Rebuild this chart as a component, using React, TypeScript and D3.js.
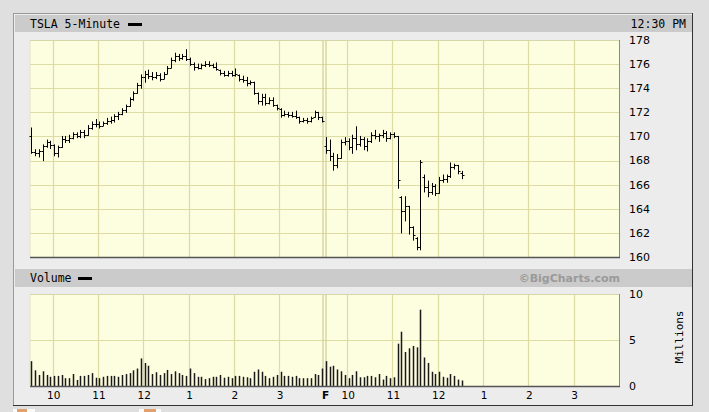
import React from "react";
import * as d3 from "d3";

// ---- DATA ----
const title = "TSLA 5-Minute";
const timeLabel = "12:30 PM";
const volumeTitle = "Volume";
const credit = "©BigCharts.com";
const volUnit = "Millions";

// Day 1 (Thursday) 5-minute bars, 9:30 .. 15:55
const day1Open = [170.0,168.7,168.6,168.8,169.2,169.5,169.3,168.6,169.1,169.8,169.7,169.9,170.2,170.0,170.4,170.1,170.7,171.0,171.0,170.9,171.1,171.3,171.4,171.7,171.9,172.2,172.5,173.1,173.6,174.3,174.9,175.2,175.0,174.9,175.1,174.8,175.2,175.7,176.3,176.7,176.5,176.7,176.4,176.0,175.8,175.7,175.9,176.0,175.9,175.8,175.5,175.3,175.1,175.3,175.1,175.1,174.8,174.7,174.4,174.5,173.6,172.9,173.3,172.8,173.0,172.6,172.3,171.8,171.9,171.8,171.7,171.6,171.3,171.4,171.3,171.6,172.0,171.6];
const day1High = [170.7,168.9,168.9,169.3,169.7,169.6,169.3,169.2,170.0,170.0,170.1,170.3,170.3,170.5,170.5,170.9,171.2,171.4,171.2,171.2,171.5,171.6,171.8,172.0,172.3,172.6,173.2,173.7,174.4,175.1,175.4,175.5,175.3,175.3,175.2,175.3,175.8,176.5,176.9,176.8,176.8,177.2,176.5,176.1,176.0,176.0,176.2,176.2,176.0,176.1,175.5,175.4,175.4,175.4,175.6,175.1,175.0,174.9,174.6,174.5,173.6,173.5,173.5,173.2,173.2,172.6,172.3,172.1,172.0,172.0,172.1,171.6,171.5,171.5,171.6,172.1,172.0,171.6];
const day1Low = [168.6,168.4,168.3,168.0,169.1,169.0,168.4,168.3,169.1,169.5,169.5,169.8,169.9,169.9,169.9,170.1,170.6,170.8,170.7,170.9,171.0,171.1,171.2,171.4,171.8,172.0,172.5,173.0,173.6,174.0,174.5,174.8,174.7,174.8,174.6,174.8,175.2,175.7,176.2,176.3,176.4,176.3,175.9,175.5,175.6,175.6,175.8,175.8,175.7,175.5,175.1,175.0,175.0,175.0,175.0,174.6,174.5,174.2,174.3,173.5,172.7,172.6,172.6,172.7,172.5,172.2,171.6,171.7,171.6,171.6,171.5,171.1,171.2,171.1,171.2,171.6,171.4,171.2];
const day1Close = [168.7,168.6,168.8,169.2,169.5,169.3,168.6,169.1,169.8,169.7,169.9,170.2,170.0,170.4,170.1,170.7,171.0,171.0,170.9,171.1,171.3,171.4,171.7,171.9,172.2,172.5,173.1,173.6,174.3,174.9,175.2,175.0,174.9,175.1,174.8,175.2,175.7,176.3,176.7,176.5,176.7,176.4,176.0,175.8,175.7,175.9,176.0,175.9,175.8,175.6,175.3,175.1,175.3,175.1,175.2,174.8,174.7,174.4,174.5,173.6,172.9,173.3,172.8,173.0,172.6,172.4,171.8,171.9,171.8,171.7,171.6,171.3,171.4,171.3,171.5,172.0,171.6,171.3];
const day1Volume = [2.7,1.7,1.2,1.6,1.2,1.0,1.1,1.1,1.2,0.85,0.85,1.3,0.65,1.1,1.1,1.2,1.4,0.9,0.85,1.0,1.1,1.1,1.1,1.0,1.2,1.3,1.4,1.7,1.9,3.0,2.5,2.2,1.3,1.5,1.2,1.4,1.75,1.3,1.6,1.4,1.2,1.1,1.9,1.4,1.0,1.0,0.75,0.85,1.0,1.0,1.2,0.9,1.0,0.85,1.1,1.1,1.0,0.95,0.85,1.55,1.8,1.55,1.1,0.85,1.0,1.2,1.55,1.1,1.1,1.0,1.1,0.85,0.85,0.85,0.85,1.3,1.2,1.9];

// Day 2 (Friday) 5-minute bars, 9:30 .. 12:30
const day2Open = [169.2,168.9,168.4,167.6,168.2,169.5,169.6,169.1,169.9,169.4,169.8,169.2,169.6,170.1,170.0,170.1,170.3,169.9,170.2,170.0,165.0,163.8,164.2,162.5,161.6,160.8,166.6,165.8,165.4,165.9,165.3,166.4,166.5,166.7,167.5,167.6,167.0];
const day2High = [169.9,169.7,168.6,168.5,169.7,169.9,169.8,170.1,170.8,170.0,169.9,169.8,170.3,170.5,170.2,170.5,170.4,170.3,170.3,170.0,165.0,165.0,164.2,162.5,161.6,168.0,166.8,166.3,166.1,166.0,166.6,166.8,166.8,167.8,167.7,167.6,167.1];
const day2Low = [168.6,168.0,167.2,167.4,168.2,169.3,168.9,168.6,168.9,169.2,168.9,168.8,169.5,169.8,169.6,169.9,169.6,169.8,169.9,165.7,162.0,163.0,161.9,161.4,160.6,160.6,165.4,165.0,165.2,165.1,165.3,166.2,166.2,166.6,167.3,166.9,166.5];
const day2Close = [168.9,168.4,167.6,168.2,169.5,169.6,169.1,169.9,169.4,169.8,169.2,169.6,170.1,170.0,170.1,170.3,169.9,170.2,170.0,166.4,163.8,164.2,162.5,161.8,160.8,167.9,165.8,165.4,165.9,165.3,166.4,166.5,166.7,167.5,167.6,167.1,166.8];
const day2Volume = [2.7,2.1,2.2,1.8,1.6,1.2,0.85,1.2,1.6,0.95,0.95,1.1,1.1,0.95,1.3,0.7,1.1,0.85,0.95,4.6,5.9,3.7,4.1,4.35,4.2,8.3,3.1,2.5,1.55,1.3,1.55,1.0,0.9,1.3,1.1,0.7,0.6];

const barsPerDay = 78;
const totalSlots = 156;
const hourTickSlots = [6, 18, 30, 42, 54, 66, 84, 96, 108, 120, 132, 144];
const hourTickLabels = ["10", "11", "12", "1", "2", "3", "10", "11", "12", "1", "2", "3"];
const dayBreakLabel = "F";
const priceTicks = [160, 162, 164, 166, 168, 170, 172, 174, 176, 178];
const volumeTicks = [0, 5, 10];

export default function App() {
  const W = 709, H = 412;
  const opens = [...day1Open, ...day2Open];
  const highs = [...day1High, ...day2High];
  const lows = [...day1Low, ...day2Low];
  const closes = [...day1Close, ...day2Close];
  const vols = [...day1Volume, ...day2Volume];

  const px0 = 30, px1 = 619;
  const x = d3.scaleLinear().domain([0, totalSlots]).range([px0, px1]);
  const yP = d3.scaleLinear().domain([160, 178]).range([257, 40]);
  const yV = d3.scaleLinear().domain([0, 10]).range([386, 294]);

  const bx = (k: number) => Math.round(x(k) + 1.4) + 0.5;
  const gx = (k: number) => Math.round(x(k)) + 0.5;
  const gridC = "#dcdca4";
  const plotFill = "#fdfde0";
  const mono = "'DejaVu Sans Mono', monospace";
  const sans = "'DejaVu Sans', sans-serif";
  const breakX = x(barsPerDay);

  const plotPanel = (top: number, bottom: number, hLines: number[]) => (
    <g>
      <rect x={px0} y={top} width={px1 - px0} height={bottom - top} fill={plotFill} stroke="none" />
      {hLines.map((yy, i) => (
        <line key={"h" + i} x1={px0} x2={px1} y1={Math.round(yy) + 0.5} y2={Math.round(yy) + 0.5} stroke={gridC} strokeWidth={1} />
      ))}
      {hourTickSlots.map((s, i) => (
        <line key={"v" + i} x1={gx(s)} x2={gx(s)} y1={top} y2={bottom} stroke={gridC} strokeWidth={1.2} />
      ))}
      <line x1={breakX - 1.5} x2={breakX - 1.5} y1={top} y2={bottom} stroke="#cfcf98" strokeWidth={1.2} />
      <line x1={breakX + 1.5} x2={breakX + 1.5} y1={top} y2={bottom} stroke="#cfcf98" strokeWidth={1.2} />
      <line x1={px0} x2={px1} y1={top + 0.5} y2={top + 0.5} stroke="#d6d6a8" strokeWidth={1} />
      <line x1={px0} x2={px0} y1={top} y2={bottom} stroke="#e4e4c0" strokeWidth={1} />
    </g>
  );

  const plotFrame = (top: number, bottom: number) => (
    <g>
      <line x1={px1 + 0.5} x2={px1 + 0.5} y1={top} y2={bottom + 1} stroke="#8a8a8a" strokeWidth={1} />
      <line x1={px0} x2={px1 + 1} y1={bottom + 0.5} y2={bottom + 0.5} stroke="#555" strokeWidth={1.5} />
    </g>
  );

  return (
    <svg width={W} height={H} style={{ position: "absolute", left: 0, top: 0 }} xmlns="http://www.w3.org/2000/svg">
      <rect x={0} y={0} width={W} height={H} fill="#dfdfdf" />
      {/* panel */}
      <rect x={13.5} y={13.5} width={679} height={392} fill="#ececec" stroke="none" />
      <line x1={13.5} x2={13.5} y1={13} y2={406} stroke="#9a9a9a" />
      <line x1={13} x2={693} y1={13.5} y2={13.5} stroke="#9a9a9a" />
      <line x1={692.5} x2={692.5} y1={13} y2={406} stroke="#333" />
      <line x1={13} x2={693} y1={405.5} y2={405.5} stroke="#333" />

      {/* header bars */}
      <rect x={15} y={15} width={677} height={17} fill="#cbcbcb" />
      <text x={30} y={28} fontFamily={mono} fontSize={11.5} fill="#000">{title}</text>
      <rect x={128} y={23} width={14} height={3} fill="#000" />
      <text x={686} y={28} fontFamily={mono} fontSize={11.5} fill="#000" textAnchor="end">{timeLabel}</text>

      <rect x={15} y={269} width={677} height={18} fill="#cbcbcb" />
      <text x={30} y={282} fontFamily={mono} fontSize={11.5} fill="#000">{volumeTitle}</text>
      <rect x={78} y={277} width={14} height={3} fill="#000" />
      <text x={620} y={282} fontFamily={sans} fontWeight="bold" fontSize={11} fill="#9a9a9a" textAnchor="end">{credit}</text>

      {/* price plot */}
      {plotPanel(40, 257, priceTicks.slice(1, -1).map((t) => yP(t)))}
      {opens.map((o, k) => {
        const cx = bx(k);
        return (
          <g key={"p" + k} stroke="#000" strokeWidth={1}>
            <line x1={cx} x2={cx} y1={yP(highs[k]) - 0.5} y2={yP(lows[k]) + 0.5} />
            <line x1={cx - 2} x2={cx} y1={Math.round(yP(o)) + 0.5} y2={Math.round(yP(o)) + 0.5} />
            <line x1={cx} x2={cx + 2} y1={Math.round(yP(closes[k])) + 0.5} y2={Math.round(yP(closes[k])) + 0.5} />
          </g>
        );
      })}
      {plotFrame(40, 257)}
      {priceTicks.map((t) => (
        <text key={"pt" + t} x={629} y={yP(t)} dy="0.35em" fontFamily={sans} fontSize={11} fill="#000">{t}</text>
      ))}

      {/* volume plot */}
      {plotPanel(294, 386, [yV(5)])}
      {vols.map((v, k) => {
        const cx = bx(k);
        return <line key={"v" + k} x1={cx} x2={cx} y1={yV(0)} y2={yV(v)} stroke="#1a1a1a" strokeWidth={1.5} />;
      })}
      {plotFrame(294, 386)}
      {volumeTicks.map((t) => (
        <text key={"vt" + t} x={629} y={yV(t)} dy="0.35em" fontFamily={sans} fontSize={11} fill="#000">{t}</text>
      ))}
      <text transform={`translate(683,337) rotate(-90)`} textAnchor="middle" fontFamily={mono} fontSize={11} fill="#000">{volUnit}</text>

      {/* x axis labels */}
      {hourTickSlots.map((s, i) => (
        <text key={"xl" + i} x={x(s) + 1} y={399} textAnchor="middle" fontFamily={sans} fontSize={10.5} fill="#000">{hourTickLabels[i]}</text>
      ))}
      <text x={breakX + 1} y={399} textAnchor="middle" fontFamily={sans} fontWeight="bold" fontSize={10.5} fill="#000">{dayBreakLabel}</text>

      {/* bottom icons */}
      <rect x={13} y={409} width={22} height={3} fill="#fafafa" />
      <rect x={17} y={409} width={10} height={3} fill="#e0a070" />
      <rect x={139} y={409} width={22} height={3} fill="#fafafa" />
      <rect x={144} y={409} width={12} height={3} fill="#e0a070" />
    </svg>
  );
}
